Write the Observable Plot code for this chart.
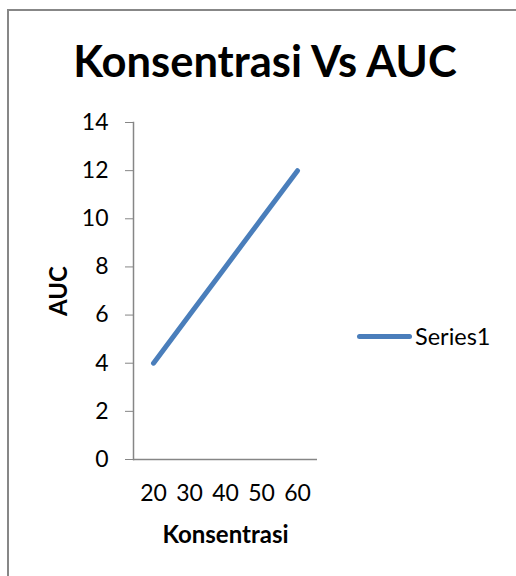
<!DOCTYPE html>
<html>
<head>
<meta charset="utf-8">
<script src="https://cdn.jsdelivr.net/npm/d3@7"></script>
<script src="https://cdn.jsdelivr.net/npm/@observablehq/plot@0.6"></script>
<style>
  html, body { margin: 0; padding: 0; background: #fff; }
  #wrap { position: relative; width: 516px; height: 576px; overflow: hidden; font-family: Lato, "Open Sans", sans-serif; }
  #frame { position: absolute; left: 7px; top: 9px; width: 560px; height: 620px; border: 2px solid #878787; box-sizing: border-box; }
  #title { position: absolute; left: 0; width: 530px; top: 34px; text-align: center; font-size: 43.5px; font-weight: 700; color: #000; white-space: nowrap; }
  #chart { position: absolute; left: 0; top: 0; }
  #legend { position: absolute; left: 357px; top: 322px; display: flex; align-items: center; font-size: 23.5px; color: #000; }
  #legend .sw { width: 55px; height: 5px; border-radius: 3px; background: #4A7EBB; margin-right: 3px; }
  [aria-label="y-axis label"], [aria-label="x-axis label"] { font-weight: 700; font-size: 24px; }
</style>
</head>
<body>
<div id="wrap">
  <div id="frame"></div>
  <div id="chart"></div>
  <div id="title"></div>
  <div id="legend"><div class="sw"></div><span id="legendText"></span></div>
</div>
<script>
const titleText = "Konsentrasi Vs AUC";
const xLabel = "Konsentrasi";
const yLabel = "AUC";
const seriesName = "Series1";
const categories = [20, 30, 40, 50, 60];
const values = [4, 6, 8, 10, 12];
const yTicks = [0, 2, 4, 6, 8, 10, 12, 14];

document.getElementById("title").textContent = titleText;
document.getElementById("legendText").textContent = seriesName;

const data = categories.map((c, i) => ({ c, v: values[i] }));

const chart = Plot.plot({
  width: 516,
  height: 576,
  marginLeft: 133,
  marginRight: 199,
  marginTop: 122,
  marginBottom: 117,
  style: { fontFamily: "Lato, 'Open Sans', sans-serif", fontSize: "23px", color: "#000", background: "transparent", overflow: "visible" },
  x: { type: "band", domain: categories, padding: 0 },
  y: { domain: [0, 14] },
  marks: [
    Plot.axisY({ ticks: yTicks, tickSize: 8, tickPadding: 17, fontSize: 23, stroke: "#868686", fill: "#000", label: yLabel, labelAnchor: "center", labelOffset: 84, labelArrow: "none" }),
    Plot.axisX({ tickSize: 0, tickPadding: 25, fontSize: 23, fill: "#000", label: xLabel, labelAnchor: "center", labelOffset: 83, labelArrow: "none" }),
    Plot.ruleY([0], { stroke: "#868686", strokeWidth: 1.5 }),
    Plot.frame({ anchor: "left", stroke: "#868686", strokeWidth: 1.5 }),
    Plot.line(data, { x: "c", y: "v", stroke: "#4A7EBB", strokeWidth: 5, strokeLinecap: "round" })
  ]
});
document.getElementById("chart").appendChild(chart);
</script>
</body>
</html>
